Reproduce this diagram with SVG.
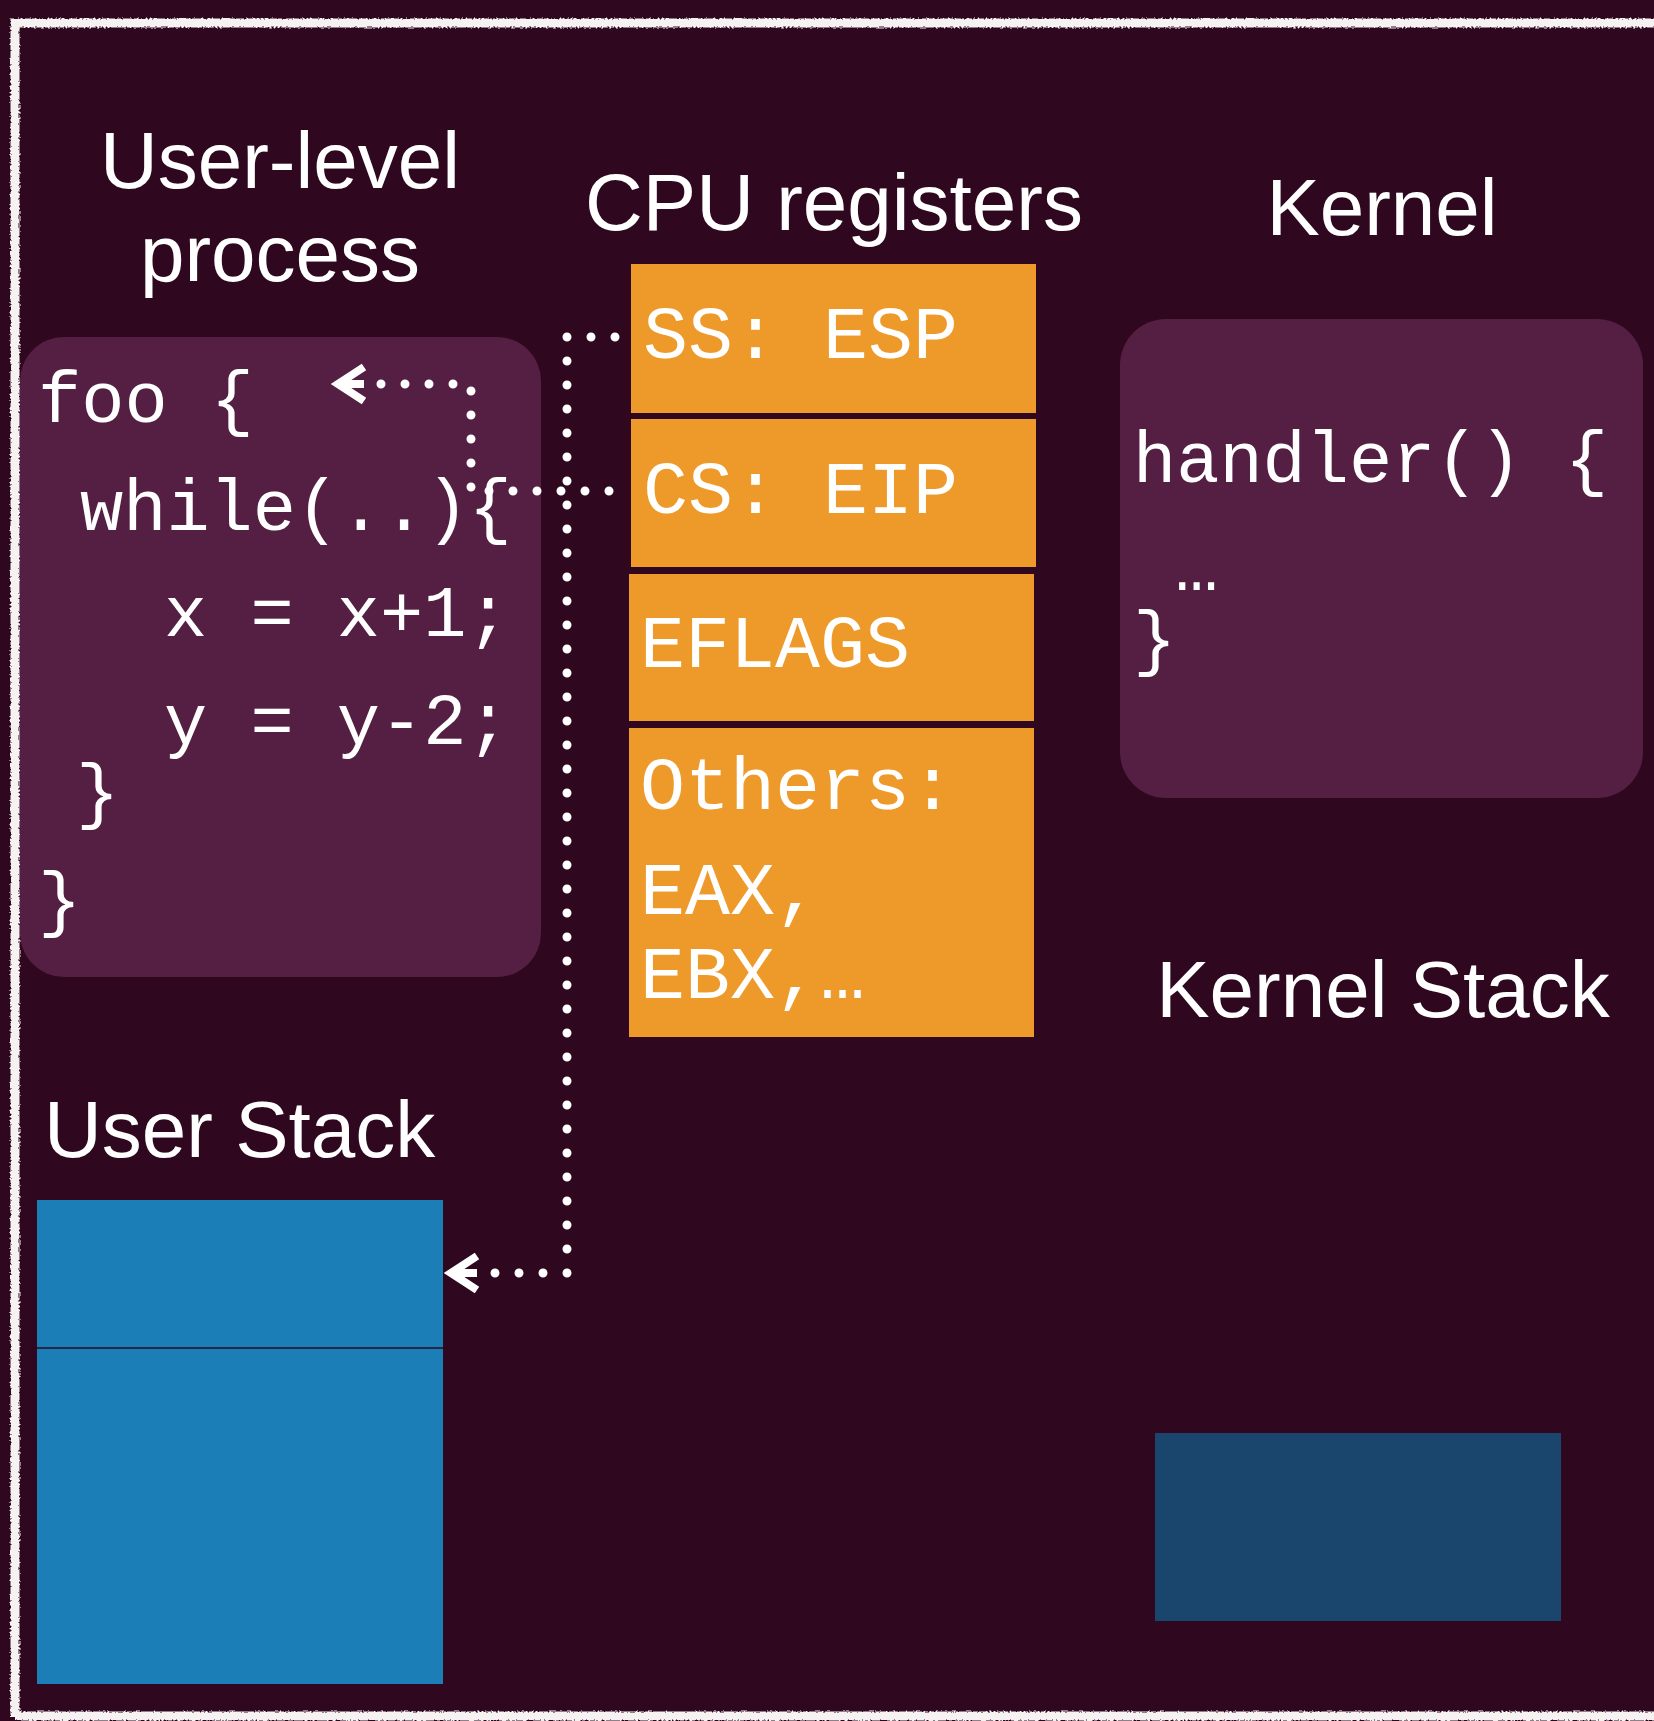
<svg xmlns="http://www.w3.org/2000/svg" xmlns:xlink="http://www.w3.org/1999/xlink" width="1654" height="1721" viewBox="0 0 1654 1721">
  <style>
    .title { font-family: "Liberation Sans", Arial, sans-serif; font-size: 80px; fill: #ffffff; }
    .code { font-family: "Liberation Mono", "Courier New", monospace; font-size: 72px; fill: #ffffff; }
    .reg { font-family: "Liberation Mono", "Courier New", monospace; font-size: 75px; fill: #ffffff; }
    .codebox { fill: #541f42; }
    .regbox { fill: #ee9a2b; }
    .dots { fill: none; stroke: #ffffff; stroke-width: 9; stroke-linecap: round; stroke-dasharray: 0 24; }
    .arrow { fill: none; stroke: #ffffff; stroke-width: 8; stroke-linejoin: miter; stroke-linecap: butt; }
    .border { fill: none; stroke: #f6f2f2; stroke-width: 9; }
  </style>
  <defs>
    <filter id="chalk" x="-5%" y="-5%" width="110%" height="110%">
      <feTurbulence type="fractalNoise" baseFrequency="0.5" numOctaves="2" seed="3" result="n"/>
      <feDisplacementMap in="SourceGraphic" in2="n" scale="4" xChannelSelector="R" yChannelSelector="G"/>
    </filter>
    <g id="arrowhead">
      <path class="arrow" d="M 8 0 H 34 M 34 -17 L 8 0 L 34 17"/>
    </g>
  </defs>

  <rect x="0" y="0" width="1654" height="1721" fill="#2f0820"/>

  <g id="frame" filter="url(#chalk)">
    <path class="border" d="M 15 1716 V 23 H 1660"/>
    <path class="border" d="M 15 1716 H 1660"/>
  </g>

  <g id="user-process">
    <text class="title" x="280" y="188" text-anchor="middle">User-level</text>
    <text class="title" x="280" y="281" text-anchor="middle">process</text>
  </g>

  <g id="user-code">
    <rect class="codebox" x="20" y="337" width="521" height="640" rx="44" ry="44"/>
    <text class="code" x="38" y="422">foo {</text>
    <text class="code" x="80" y="530">while(..){</text>
    <text class="code" x="164" y="636">x = x+1;</text>
    <text class="code" x="164" y="744">y = y-2;</text>
    <text class="code" x="76" y="815">}</text>
    <text class="code" x="38" y="923">}</text>
  </g>

  <g id="cpu-registers-title">
    <text class="title" x="585" y="230">CPU registers</text>
  </g>

  <g id="reg-ss-esp">
    <rect class="regbox" x="631" y="264" width="405" height="149"/>
    <text class="reg" x="643" y="358">SS: ESP</text>
  </g>
  <g id="reg-cs-eip">
    <rect class="regbox" x="631" y="419" width="405" height="148"/>
    <text class="reg" x="643" y="513">CS: EIP</text>
  </g>
  <g id="reg-eflags">
    <rect class="regbox" x="629" y="574" width="405" height="147"/>
    <text class="reg" x="640" y="667">EFLAGS</text>
  </g>
  <g id="reg-others">
    <rect class="regbox" x="629" y="728" width="405" height="309"/>
    <text class="reg" x="640" y="809">Others:</text>
    <text class="reg" x="640" y="914">EAX,</text>
    <text class="reg" x="640" y="998">EBX,…</text>
  </g>

  <g id="kernel">
    <text class="title" x="1382" y="235" text-anchor="middle">Kernel</text>
    <rect class="codebox" x="1120" y="319" width="523" height="479" rx="46" ry="46"/>
    <text class="code" x="1133" y="482">handler() {</text>
    <text class="code" x="1175" y="590">…</text>
    <text class="code" x="1133" y="662">}</text>
  </g>

  <g id="user-stack">
    <text class="title" x="44" y="1157">User Stack</text>
    <rect x="37" y="1200" width="406" height="484" fill="#1b7eb7"/>
    <line x1="37" y1="1348" x2="443" y2="1348" stroke="#2f0820" stroke-width="1.5"/>
  </g>

  <g id="kernel-stack">
    <text class="title" x="1383" y="1017" text-anchor="middle">Kernel Stack</text>
    <rect x="1155" y="1433" width="406" height="188" fill="#1a466e"/>
  </g>

  <g id="connectors">
    <g id="esp-to-user-stack">
      <path class="dots" d="M 615 337 H 567 V 1273 H 494"/>
      <use xlink:href="#arrowhead" transform="translate(443 1273)"/>
    </g>
    <g id="eip-to-foo">
      <path class="dots" d="M 609 491 H 488"/>
      <path class="dots" d="M 471 487 V 390"/>
      <path class="dots" d="M 453 384 H 380"/>
      <use xlink:href="#arrowhead" transform="translate(330 384)"/>
    </g>
  </g>
</svg>
